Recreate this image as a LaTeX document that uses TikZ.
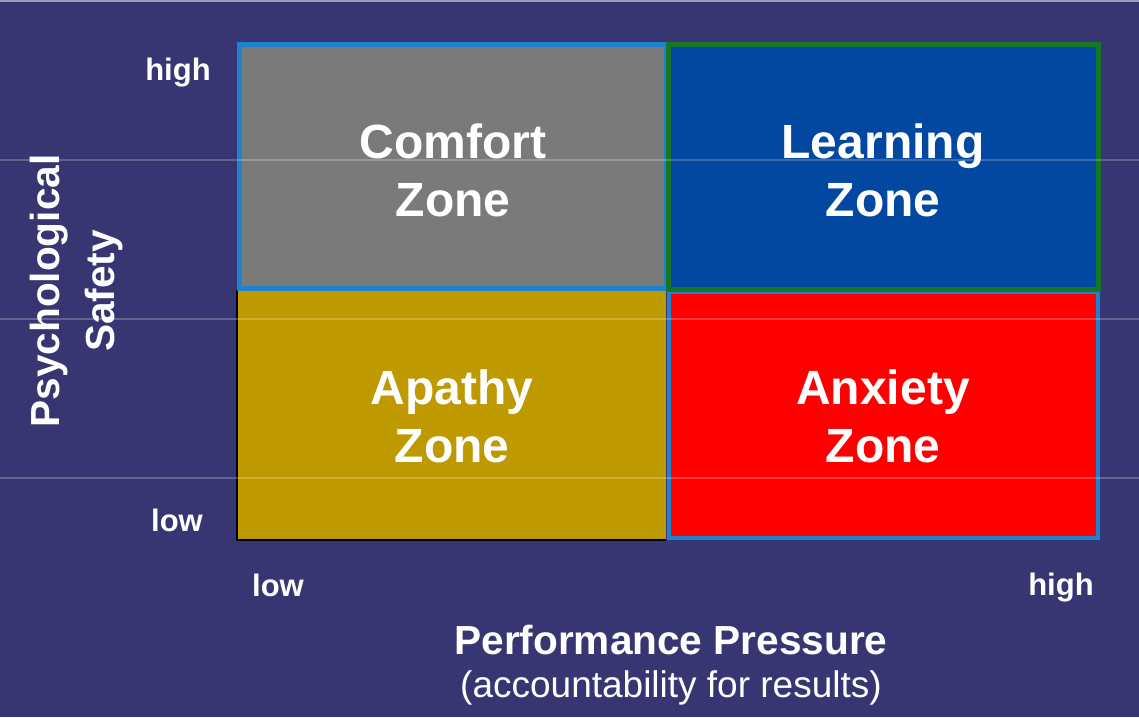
\documentclass[tikz,border=0pt]{standalone}
\usepackage{fontspec}
\setmainfont{Liberation Sans}
\begin{document}
\begin{tikzpicture}[x=0.5pt,y=-0.5pt,
  zone/.style={rectangle, inner sep=0pt, outer sep=0pt, anchor=north west, font=\fontsize{24}{29}\selectfont\bfseries, text=white, align=center},
  axislbl/.style={font=\fontsize{15.5}{18}\selectfont\bfseries, text=white, inner sep=0pt},
  titlelbl/.style={font=\fontsize{20.3}{27.5}\selectfont\bfseries, text=white, inner sep=0pt, align=center},
  guide/.style={draw=white, opacity=0.22, line width=1.2pt}]
\definecolor{bg}{RGB}{56,54,114}
\definecolor{czone}{RGB}{122,122,122}
\definecolor{lzone}{RGB}{2,71,160}
\definecolor{apzone}{RGB}{191,153,0}
\definecolor{axzone}{RGB}{255,0,0}
\definecolor{bblue}{RGB}{30,130,205}
\definecolor{bgreen}{RGB}{22,118,40}
\fill[bg] (0,0) rectangle (1139,717);
\useasboundingbox (0,0) rectangle (1139,717);
\draw[white, opacity=0.5, line width=1pt] (0,1) -- (1139,1);
% zones
\node[zone, fill=apzone, minimum width=429*0.5pt, minimum height=250*0.5pt] (ap) at (237,290) {};
\draw[black, line width=1.2pt] (ap.north west) -- (ap.south west) -- (ap.south east);
\node[zone, fill=czone, draw=bblue, line width=2.5pt, minimum width=427*0.5pt, minimum height=244*0.5pt] (cf) at (239.5,44.5) {};
\node[zone, fill=axzone, draw=bblue, line width=2pt, minimum width=429*0.5pt, minimum height=246*0.5pt] (ax) at (669,292) {};
\node[zone, fill=lzone, draw=bgreen, line width=2.5pt, minimum width=430*0.5pt, minimum height=245*0.5pt] (ln) at (668.5,44.5) {};
% faint guide lines
\foreach \yy in {160,319,478} \draw[guide] (0,\yy) -- (1139,\yy);
% zone labels
\node[zone, anchor=center] (cft) at (453,170) {Comfort\\Zone};
\node[zone, anchor=center] (lnt) at (883,170) {Learning\\Zone};
\node[zone, anchor=center] (apt) at (452,416) {Apathy\\Zone};
\node[zone, anchor=center] (axt) at (883,416) {Anxiety\\Zone};
% axis labels
\node[axislbl] (yhigh) at (178,73) {high};
\node[axislbl] (ylow) at (177,520) {low};
\node[axislbl] (xlow) at (278,585) {low};
\node[axislbl] (xhigh) at (1061,588) {high};
\node[titlelbl, rotate=90] (ytitle) at (77,291) {Psychological\\Safety};
\node[titlelbl] (xtitle) at (671,640) {Performance Pressure};
\node[font=\fontsize{18.5}{22}\selectfont, text=white, inner sep=0pt] (xsub) at (671,688) {(accountability for results)};
\end{tikzpicture}
\end{document}
